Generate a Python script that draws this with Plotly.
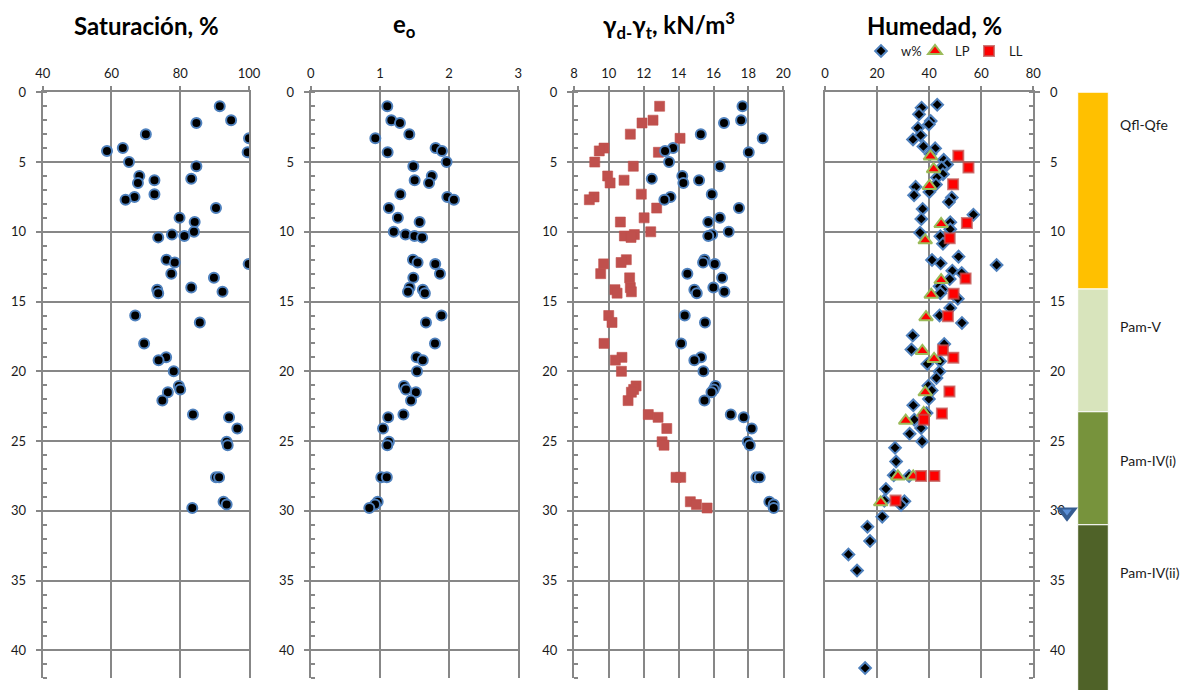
import plotly.graph_objects as go

W, H = 1199, 690
FONT = "Lato"
GRID = "#878787"
BLUE = "#4F81BD"
TXT = "#1a1a1a"

# ---- sample depths (m) shared by the laboratory profiles ----
depth = [1.0, 2.0, 2.2, 3.0, 3.3, 4.0, 4.2, 4.3, 5.0, 5.3, 6.0, 6.2, 6.3, 6.5,
         7.3, 7.5, 7.7, 8.3, 9.0, 9.3, 10.0, 10.2, 10.3, 10.4, 12.0, 12.2, 12.3,
         13.0, 13.3, 14.0, 14.15, 14.3, 14.4, 16.0, 16.5, 18.0, 19.0, 19.2, 20.0,
         21.05, 21.3, 21.5, 22.1, 23.1, 23.3, 24.1, 25.05, 25.3, 27.6, 27.6,
         29.35, 29.55, 29.8]

# degree of saturation, %
saturation = [91.5, 94.8, 84.7, 70.0, 100.0, 63.3, 58.7, 99.6, 65.1, 84.7, 68.1, 83.2,
              72.5, 67.7, 72.5, 66.7, 64.1, 90.4, 79.8, 84.2, 84.0, 77.6, 81.2, 73.6,
              76.0, 78.4, 99.9, 77.4, 89.8, 83.2, 73.3, 92.3, 73.6, 66.9, 85.7, 69.5,
              75.9, 73.7, 78.1, 79.6, 80.0, 76.4, 74.8, 83.7, 94.2, 96.6, 93.5, 93.8,
              90.4, 91.3, 92.6, 93.5, 83.5]

# initial void ratio e0
void_ratio = [1.107, 1.165, 1.29, 1.425, 0.934, 1.805, 1.897, 1.112, 1.964, 1.483, 1.75, None,
              1.502, 1.71, 1.295, 1.974, 2.07, 1.13, 1.26, 1.574, 1.2, 1.37, 1.5, 1.61,
              1.478, 1.545, 1.80, 1.868, 1.483, 1.43, 1.62, 1.406, 1.65, 1.89, 1.666, 1.796,
              1.53, 1.62, 1.536, 1.348, 1.377, 1.52, 1.45, 1.34, 1.12, 1.045, 1.13, 1.107,
              1.02, 1.10, 0.968, 0.93, 0.847]

# dry unit weight, kN/m3
gamma_d = [12.91, 12.53, 11.9, 11.23, 14.08, 9.72, 9.45, 12.84, 9.19, 11.4, 9.93, None,
           10.87, 10.07, 11.86, 9.15, 8.88, 12.74, 12.02, 10.66, 12.4, 11.46, 10.89, 11.27,
           11.0, 10.7, 9.70, 9.53, 11.19, 11.23, 10.35, 11.29, 10.47, 9.99, 10.18, 9.72,
           10.75, 10.37, 10.72, 11.56, 11.42, 11.29, 11.1, 12.26, 12.82, 13.32, 13.05, 13.16,
           13.85, 14.12, 14.67, 15.02, 15.63]

# total unit weight, kN/m3
gamma_t = [17.66, 17.58, 16.6, 15.27, 18.82, 13.68, 13.22, 18.02, 13.45, 16.36, 14.21, 12.46,
           15.17, 14.27, 15.9, 13.53, 13.18, 17.46, 16.36, 15.7, 16.87, 15.92, 15.7, None,
           15.48, 15.4, 16.07, 14.5, 16.49, 15.99, 14.9, 16.62, 15.04, 14.35, 15.51, 14.14,
           15.28, 14.9, 15.42, 16.11, 16.01, 15.88, 15.48, 16.99, 17.73, 18.19, 17.96, 18.08,
           18.46, 18.65, 19.2, 19.45, 19.45]

# ---- water content profile ----
w_depth = [0.89, 1.1, 1.58, 2.06, 2.3, 2.56, 3.09, 3.38, 3.88, 4.02, 4.43, 4.84, 5.17, 5.39,
           5.87, 6.11, 6.61, 6.78, 7.14, 7.38, 7.54, 7.86, 8.36, 8.77, 9.08, 9.32, 9.82,
           10.06, 10.32, 10.85, 11.78, 12.02, 12.26, 12.38, 12.79, 12.96, 13.39, 13.9, 14.13,
           14.4, 14.8, 15.47, 16.0, 16.53, 17.44, 18.04, 18.44, 19.28, 19.47, 20.02, 20.48,
           21.03, 21.37, 21.99, 22.44, 22.99, 23.47, 24.07, 24.48, 25.03, 25.48, 26.47, 27.45,
           27.5, 28.43, 29.27, 29.32, 29.58, 30.42, 31.14, 32.17, 33.13, 34.28, 41.27]
w_content = [43.1, 37.1, 36.1, 40.6, 39.9, 35.7, 36.7, 33.8, 37.8, 42.3, 40.5, 45.6, 46.9, 44.8,
             45.3, 43.0, 42.6, 34.8, 40.1, 34.2, 48.7, 47.6, 37.5, 57.0, 37.0, 48.1, 48.1,
             36.5, 44.3, 45.3, 51.3, 41.1, 44.4, 65.9, 48.9, 52.5, 47.9, 44.0, 45.2,
             44.3, 51.0, 48.1, 44.0, 52.6, 33.7, 45.8, 33.2, 44.2, 39.3, 44.0, 42.8,
             39.7, 41.0, 39.9, 33.9, 39.0, 34.3, 36.9, 32.5, 37.3, 26.9, 27.3, 26.4,
             32.3, 23.4, 22.8, 30.5, 29.2, 22.0, 16.3, 17.3, 9.0, 12.3, 15.4]

lp_depth = [4.6, 5.51, 6.71, 9.44, 10.61, 13.46, 14.51, 16.12, 18.54, 19.11, 21.51, 22.99,
            23.54, 27.54, 27.54, 29.39]
plastic_limit = [40.5, 41.7, 40.1, 44.6, 38.5, 44.6, 40.8, 38.8, 37.4, 41.9, 38.5, 37.9,
                 31.0, 28.0, 33.9, 21.4]

ll_depth = [4.55, 5.39, 6.59, 9.37, 10.47, 13.34, 14.44, 16.05, 18.49, 19.02, 21.44, 23.02,
            23.47, 27.5, 27.5, 29.27]
liquid_limit = [51.2, 55.1, 49.2, 54.5, 47.9, 54.0, 49.4, 47.2, 45.3, 49.3, 47.8, 44.9,
                38.0, 36.9, 42.0, 27.1]

# ---- stratigraphic column ----
strata_names = ["Qfl-Qfe", "Pam-V", "Pam-IV(i)", "Pam-IV(ii)"]
strata_top = [0.0, 14.1, 22.9, 31.0]
strata_bottom = [14.1, 22.9, 31.0, 43.0]
strata_label_depth = [2.3, 16.8, 26.4, 34.4]
strata_colors = ["#FFC000", "#D8E4BC", "#77933C", "#4F6228"]
water_table_depth = 30.1

# ---- layout geometry (pixels) ----
panel_px = [(42.7, 249.0), (310.7, 518.3), (574.0, 783.3), (825.0, 1033.3)]
panel_range = [[40, 100], [0, 3], [8, 20], [0, 80]]
panel_dtick = [20, 1, 2, 20]
y_top_px, y_bot_px = 92.3, 678.2
depth_max = 42
px_per_m = (y_bot_px - y_top_px) / depth_max

# strata column: bar occupies [-0.5, 0.5]; the axis extends left to hold the water-table symbol
col_left_px, col_right_px = 1055.0, 1108.3
col_bar_px = 30.6
col_range = [0.5 - (col_right_px - col_left_px) / col_bar_px, 0.5]
water_table_x = -0.85


def fx(p):
    return p / W


def fy(p):
    return 1 - p / H


fig = go.Figure()

dot = dict(symbol="circle", size=10, color="black", line=dict(color=BLUE, width=2))

fig.add_trace(go.Scatter(x=saturation, y=depth, mode="markers", marker=dot,
                         xaxis="x", yaxis="y", showlegend=False, hoverinfo="skip"))
fig.add_trace(go.Scatter(x=void_ratio, y=depth, mode="markers", marker=dot,
                         xaxis="x2", yaxis="y2", showlegend=False, hoverinfo="skip"))
fig.add_trace(go.Scatter(x=gamma_d, y=depth, mode="markers",
                         marker=dict(symbol="square", size=10, color="#C0504D",
                                     line=dict(color="rgba(192,80,77,0.6)", width=1)),
                         xaxis="x3", yaxis="y3", showlegend=False, hoverinfo="skip"))
fig.add_trace(go.Scatter(x=gamma_t, y=depth, mode="markers", marker=dot,
                         xaxis="x3", yaxis="y3", showlegend=False, hoverinfo="skip"))

fig.add_trace(go.Scatter(x=w_content, y=w_depth, mode="markers", name="w%",
                         marker=dict(symbol="diamond", size=9, color="black",
                                     line=dict(color=BLUE, width=2)),
                         xaxis="x4", yaxis="y4", hoverinfo="skip"))
fig.add_trace(go.Scatter(x=plastic_limit, y=lp_depth, mode="markers", name="LP",
                         marker=dict(symbol="triangle-up", size=12, color="#FF0000",
                                     line=dict(color="#9BBB59", width=2)),
                         xaxis="x4", yaxis="y4", hoverinfo="skip"))
fig.add_trace(go.Scatter(x=liquid_limit, y=ll_depth, mode="markers", name="LL",
                         marker=dict(symbol="square", size=10, color="#FF0000",
                                     line=dict(color="rgba(192,80,77,0.75)", width=2)),
                         xaxis="x4", yaxis="y4", hoverinfo="skip"))

# stratigraphic column as stacked bars
fig.add_trace(go.Bar(x=[0] * len(strata_names),
                     y=[b - t for t, b in zip(strata_top, strata_bottom)],
                     base=strata_top, width=1,
                     marker=dict(color=strata_colors, line=dict(color="white", width=1)),
                     xaxis="x5", yaxis="y5", showlegend=False, hoverinfo="skip"))

# water table symbol
fig.add_trace(go.Scatter(x=[water_table_x], y=[water_table_depth], mode="markers",
                         marker=dict(symbol="triangle-down", size=19, color="#355C91"),
                         xaxis="x5", yaxis="y5", cliponaxis=False,
                         showlegend=False, hoverinfo="skip"))
fig.add_trace(go.Scatter(x=[water_table_x], y=[water_table_depth - 0.05], mode="markers",
                         marker=dict(symbol="triangle-down", size=8, color="#5B8FD6"),
                         xaxis="x5", yaxis="y5", cliponaxis=False,
                         showlegend=False, hoverinfo="skip"))

tickfont = dict(family=FONT, size=13, color=TXT)
layout = dict(
    width=W, height=H,
    margin=dict(l=0, r=0, t=0, b=0, autoexpand=False),
    paper_bgcolor="white", plot_bgcolor="white",
    font=dict(family=FONT, color=TXT),
    barmode="overlay",
    showlegend=True,
    legend=dict(orientation="h", x=fx(861), y=fy(36), xanchor="left", yanchor="top",
                font=dict(family=FONT, size=13, color=TXT), bgcolor="rgba(0,0,0,0)",
                itemwidth=30, entrywidth=9, tracegroupgap=0),
)

y_domain = [fy(y_bot_px), fy(y_top_px)]
for i in range(4):
    n = "" if i == 0 else str(i + 1)
    a, b = panel_px[i]
    layout["xaxis" + n] = dict(
        domain=[fx(a), fx(b)], range=panel_range[i], dtick=panel_dtick[i], tick0=0,
        side="top", anchor="y" + n,
        showgrid=True, gridcolor=GRID, gridwidth=2,
        showline=True, linecolor=GRID, linewidth=2,
        ticks="outside", ticklen=4, tickwidth=2, tickcolor=GRID,
        ticklabelstandoff=3, tickfont=tickfont, zeroline=False,
    )
    layout["yaxis" + n] = dict(
        domain=y_domain, range=[depth_max, 0], dtick=5, tick0=0,
        side="right" if i == 3 else "left", anchor="x" + n,
        showgrid=True, gridcolor=GRID, gridwidth=2,
        showline=True, mirror=True, linecolor=GRID, linewidth=2,
        ticks="outside", ticklen=5, tickwidth=2, tickcolor=GRID,
        ticklabelstandoff=7, tickfont=tickfont, zeroline=False,
        minor=dict(dtick=1, tick0=0, ticks="inside", ticklen=4, tickwidth=2,
                   tickcolor=GRID, showgrid=False),
    )

layout["xaxis5"] = dict(domain=[fx(col_left_px), fx(col_right_px)], range=col_range,
                        anchor="y5", visible=False)
layout["yaxis5"] = dict(domain=[0, fy(y_top_px)],
                        range=[(H - y_top_px) / px_per_m, 0],
                        anchor="x5", visible=False)

annotations = []
titles = [(146, "<b>Saturación, %</b>"),
          (404, "<b>e<sub>o</sub></b>"),
          (669, "<b>γ<sub>d-</sub>γ<sub>t</sub>, kN/m<sup>3</sup></b>"),
          (934, "<b>Humedad, %</b>")]
for xc, t in titles:
    annotations.append(dict(text=t, x=fx(xc), y=fy(25), xref="paper", yref="paper",
                            xanchor="center", yanchor="middle", showarrow=False,
                            font=dict(family=FONT, size=24, color="black")))
for name, d in zip(strata_names, strata_label_depth):
    annotations.append(dict(text=name, x=fx(1118), y=d, xref="paper", yref="y5",
                            xanchor="left", yanchor="middle", showarrow=False,
                            font=dict(family=FONT, size=14, color=TXT)))
layout["annotations"] = annotations

fig.update_layout(**layout)
fig.write_html("out.html")
